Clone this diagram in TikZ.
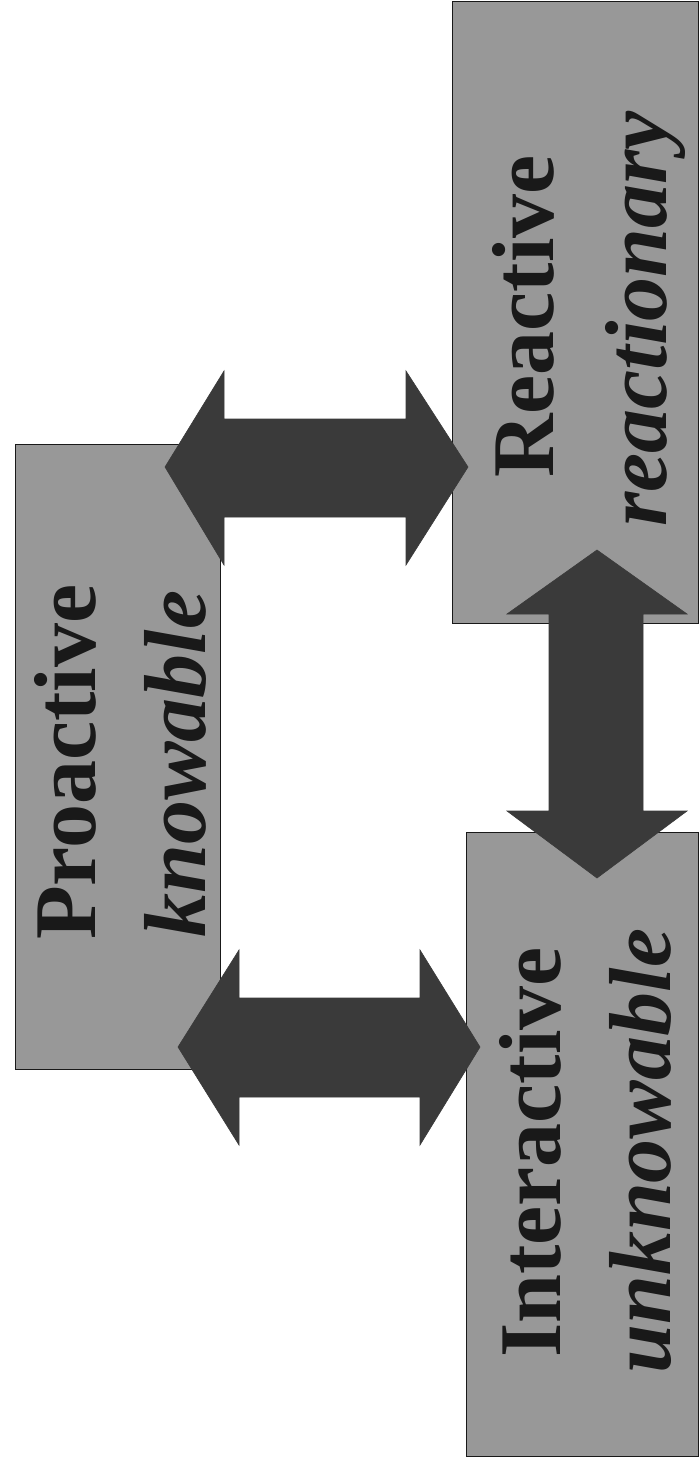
\documentclass[tikz,border=0pt]{standalone}
\usepackage{fontspec}
\setmainfont{Liberation Serif}
\definecolor{boxgray}{RGB}{152,152,152}
\definecolor{arrowgray}{RGB}{58,58,58}
\definecolor{inkblack}{RGB}{25,25,25}
\begin{document}
\begin{tikzpicture}[x=1pt,y=-1pt,
  box/.style={draw=inkblack, line width=1.2pt, fill=boxgray, inner sep=0pt, anchor=north west},
  blockarrow/.style={fill=arrowgray, draw=arrowgray, line width=0.6pt, line join=miter},
  boldlabel/.style={rotate=90, anchor=base west, inner sep=0pt, text=inkblack,
    font=\bfseries\fontsize{88}{88}\selectfont},
  itallabel/.style={rotate=90, anchor=base west, inner sep=0pt, text=inkblack,
    font=\bfseries\itshape\fontsize{88}{88}\selectfont}]
\useasboundingbox (0,0) rectangle (699,1466);
\fill[white] (0,0) rectangle (699,1466);

% boxes
\node[box, minimum width=205pt, minimum height=625pt] (pro) at (15,444) {};
\node[box, minimum width=246pt, minimum height=622pt] (rea) at (452,1) {};
\node[box, minimum width=232pt, minimum height=624pt] (int) at (466,832) {};

% block arrows
\fill[blockarrow] (165,467) -- (224,371) -- (224,419) -- (406,419) -- (406,371)
  -- (468,467) -- (406,565) -- (406,517) -- (224,517) -- (224,565) -- cycle;
\fill[blockarrow] (178,1047) -- (239,950) -- (239,998) -- (420,998) -- (420,950)
  -- (480,1047) -- (420,1145) -- (420,1097) -- (239,1097) -- (239,1145) -- cycle;
\fill[blockarrow] (597,550) -- (687,614) -- (643,614) -- (643,811) -- (687,811)
  -- (597,878) -- (507,811) -- (549,811) -- (549,614) -- (507,614) -- cycle;

% labels
\node[boldlabel] (proT) at (95,940) {Proactive};
\node[itallabel] (proS) at (205,938) {knowable};
\node[boldlabel] (reaT) at (553,478) {Reactive};
\node[itallabel] (reaS) at (666,527) {reactionary};
\node[boldlabel] (intT) at (560,1358) {Interactive};
\node[itallabel] (intS) at (670,1374) {unknowable};
\end{tikzpicture}
\end{document}
